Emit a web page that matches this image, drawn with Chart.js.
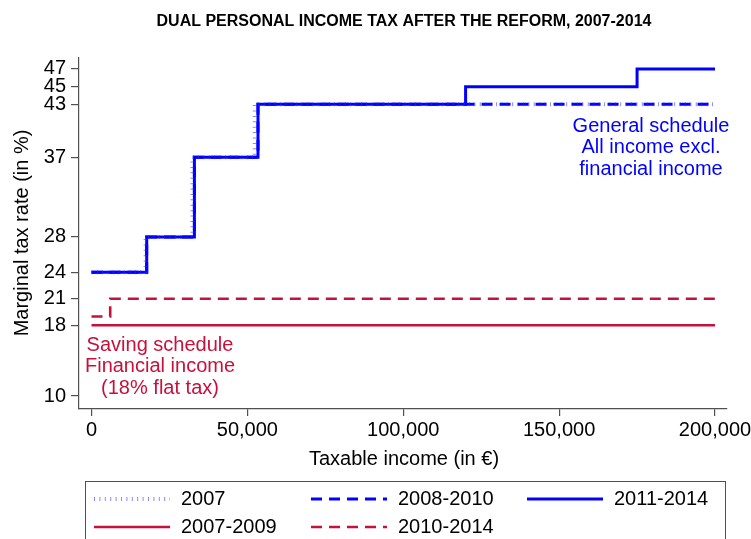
<!DOCTYPE html>
<html lang="en">

<head>
    <meta charset="UTF-8">
    <title>Dual personal income tax after the reform, 2007-2014</title>
    <script src="https://cdn.jsdelivr.net/npm/chart.js"></script>
    <style>
        body { margin: 0; background: #fff; }
        canvas { display: block; }
    </style>
</head>

<body>
    <canvas id="taxChart" width="751" height="539"></canvas>

    <script>
        // thresholds (start of each bracket, in euros) and marginal rates (%)
        const general2007Cuts = [0, 17360, 32360, 52360];
        const general2007Rates = [24, 28, 37, 43];
        const general2008Cuts = [0, 17707, 33007, 53407];
        const general2008Rates = [24, 28, 37, 43];
        const general2011Cuts = [0, 17707, 33007, 53407, 120000, 175000];
        const general2011Rates = [24, 28, 37, 43, 45, 47];
        const saving2007Cuts = [0];
        const saving2007Rates = [18];
        const saving2010Cuts = [0, 6000];
        const saving2010Rates = [19, 21];
        const incomeMax = 200000;

        const xTicks = [0, 50000, 100000, 150000, 200000];
        const yTicks = [10, 18, 21, 24, 28, 37, 43, 45, 47];

        const BLUE = '#0000ff';
        const RED = '#c8103c';
        const AXIS = '#505050';
        const FONT = '"Liberation Sans", Arial, Helvetica, sans-serif';

        function steps(cuts, rates) {
            const pts = cuts.map((c, i) => ({ x: c, y: rates[i] }));
            pts.push({ x: incomeMax, y: rates[rates.length - 1] });
            return pts;
        }

        const series = [
            { label: '2007', data: steps(general2007Cuts, general2007Rates), color: 'rgba(40,40,255,0.55)', width: 4, dash: [1, 4.4] },
            { label: '2008-2010', data: steps(general2008Cuts, general2008Rates), color: BLUE, width: 3, dash: [11, 7] },
            { label: '2011-2014', data: steps(general2011Cuts, general2011Rates), color: BLUE, width: 3, dash: [] },
            { label: '2007-2009', data: steps(saving2007Cuts, saving2007Rates), color: RED, width: 2.6, dash: [] },
            { label: '2010-2014', data: steps(saving2010Cuts, saving2010Rates), color: RED, width: 2.6, dash: [11, 7] }
        ];

        // title, axis titles, notes and framed legend
        const extras = {
            id: 'extras',
            afterDraw(chart) {
                const ctx = chart.ctx;
                ctx.save();
                ctx.textBaseline = 'middle';
                ctx.textAlign = 'center';

                ctx.fillStyle = '#000';
                ctx.font = 'bold 16px ' + FONT;
                ctx.fillText('DUAL PERSONAL INCOME TAX AFTER THE REFORM, 2007-2014', 404, 22);

                ctx.font = '20px ' + FONT;
                ctx.fillText('Taxable income (in €)', 404, 459);
                ctx.save();
                ctx.translate(22, 233);
                ctx.rotate(-Math.PI / 2);
                ctx.fillText('Marginal tax rate (in %)', 0, 0);
                ctx.restore();

                ctx.fillStyle = BLUE;
                ['General schedule', 'All income excl.', 'financial income'].forEach((t, i) => {
                    ctx.fillText(t, 651, 126 + i * 21.5);
                });
                ctx.fillStyle = RED;
                ['Saving schedule', 'Financial income', '(18% flat tax)'].forEach((t, i) => {
                    ctx.fillText(t, 160, 345 + i * 21.5);
                });

                // legend
                ctx.strokeStyle = AXIS;
                ctx.lineWidth = 1;
                ctx.strokeRect(85.5, 481.5, 640, 80);
                const cols = [94, 311, 527];
                const rows = [499, 527];
                ctx.textAlign = 'left';
                ctx.fillStyle = '#000';
                series.forEach((s, i) => {
                    const x = cols[i % 3];
                    const y = rows[Math.floor(i / 3)];
                    ctx.beginPath();
                    ctx.strokeStyle = s.color;
                    ctx.lineWidth = s.width;
                    ctx.setLineDash(s.dash);
                    ctx.moveTo(x, y);
                    ctx.lineTo(x + 76, y);
                    ctx.stroke();
                    ctx.setLineDash([]);
                    ctx.fillText(s.label, x + 87, y);
                });
                ctx.restore();
            }
        };

        new Chart(document.getElementById('taxChart'), {
            type: 'line',
            data: {
                datasets: series.map(s => ({
                    label: s.label,
                    data: s.data,
                    borderColor: s.color,
                    borderWidth: s.width,
                    borderDash: s.dash,
                    stepped: 'before',
                    pointRadius: 0,
                    fill: false
                }))
            },
            options: {
                responsive: false,
                animation: false,
                layout: { padding: { left: 0, right: 24, top: 58, bottom: 90 } },
                plugins: { legend: { display: false }, tooltip: { enabled: false } },
                scales: {
                    x: {
                        type: 'linear',
                        min: -4010,
                        max: 203850,
                        afterBuildTicks: scale => { scale.ticks = xTicks.map(v => ({ value: v })); },
                        afterFit: scale => {
                            scale.height = 40;
                            scale.paddingLeft = 0;
                            scale.paddingRight = 0;
                        },
                        ticks: {
                            autoSkip: false,
                            maxRotation: 0,
                            padding: 2,
                            color: '#000',
                            font: { family: FONT, size: 20 },
                            callback: v => v.toLocaleString('en-US')
                        },
                        grid: { drawOnChartArea: false, drawTicks: true, tickLength: 7, color: AXIS, lineWidth: 1.2 },
                        border: { display: true, color: AXIS, width: 1.2 }
                    },
                    y: {
                        min: 8.53,
                        max: 48.24,
                        afterBuildTicks: scale => { scale.ticks = yTicks.map(v => ({ value: v })); },
                        afterFit: scale => {
                            scale.width = 79;
                            scale.paddingTop = 0;
                            scale.paddingBottom = 0;
                        },
                        ticks: {
                            autoSkip: false,
                            padding: 5,
                            color: '#000',
                            font: { family: FONT, size: 20 }
                        },
                        grid: { drawOnChartArea: false, drawTicks: true, tickLength: 8, color: AXIS, lineWidth: 1.2 },
                        border: { display: true, color: AXIS, width: 1.2 }
                    }
                }
            },
            plugins: [extras]
        });
    </script>
</body>

</html>
